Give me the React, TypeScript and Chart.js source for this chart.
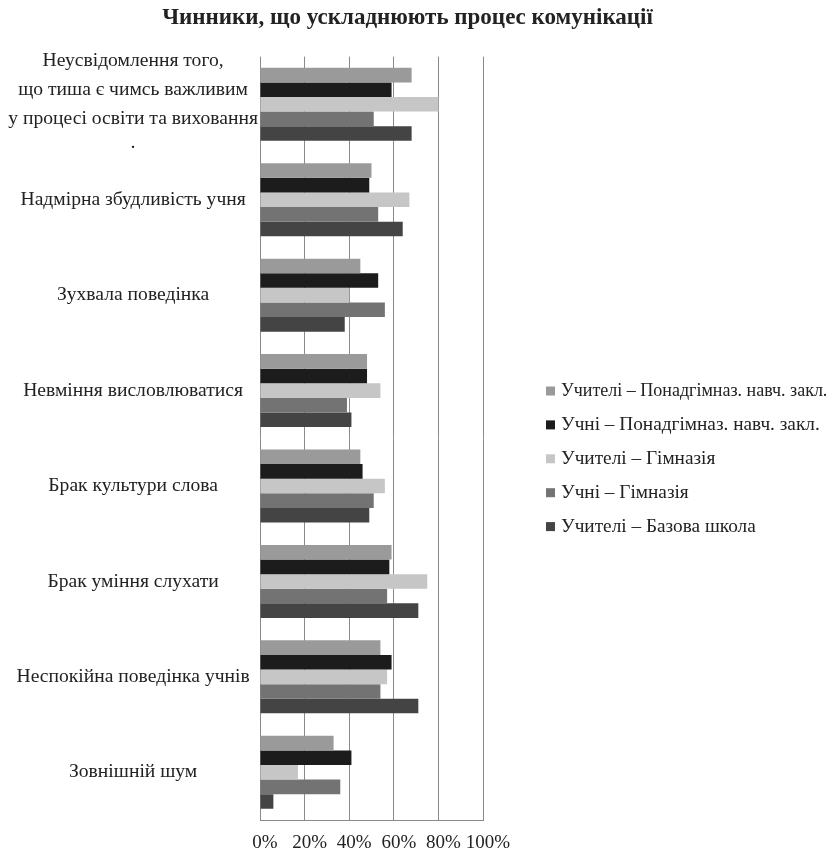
import React, { useEffect, useRef } from "react";
import { Chart, registerables } from "chart.js";

Chart.register(...registerables);

const TITLE = "Чинники, що ускладнюють процес комунікації";

const categories: (string | string[])[] = [
  ["Неусвідомлення того,", "що тиша є чимсь важливим", "у процесі освіти та виховання", "·"],
  "Надмірна збудливість учня",
  "Зухвала поведінка",
  "Невміння висловлюватися",
  "Брак культури слова",
  "Брак уміння слухати",
  "Неспокійна поведінка учнів",
  "Зовнішній шум",
];

const seriesNames = [
  "Учителі – Понадгімназ. навч. закл.",
  "Учні – Понадгімназ. навч. закл.",
  "Учителі – Гімназія",
  "Учні – Гімназія",
  "Учителі – Базова школа",
];

const teachersUpper = [68, 50, 45, 48, 45, 59, 54, 33];
const pupilsUpper = [59, 49, 53, 48, 46, 58, 59, 41];
const teachersGymn = [80, 67, 40, 54, 56, 75, 57, 17];
const pupilsGymn = [51, 53, 56, 39, 51, 57, 54, 36];
const teachersBasic = [68, 64, 38, 41, 49, 71, 71, 6];

const seriesValues = [teachersUpper, pupilsUpper, teachersGymn, pupilsGymn, teachersBasic];
const seriesColors = ["#9a9a9a", "#1c1c1c", "#c6c6c6", "#737373", "#444444"];

const xTicks = [0, 20, 40, 60, 80, 100];

const FONT = "'Liberation Serif', 'Times New Roman', serif";

// side legend drawn on the canvas, to the right of the plot
const LEGEND_GAP = 63;
const LEGEND_FIRST_Y = 391;
const LEGEND_ROW = 33.9;
const LEGEND_BOX = 9;
const LEGEND_FONT_SIZES = [18, 19.3, 19.3, 19.3, 19.3];

const sideLegend = {
  id: "sideLegend",
  afterDraw(chart: any) {
    const { ctx, chartArea } = chart;
    const x = chartArea.right + LEGEND_GAP;
    ctx.save();
    ctx.textBaseline = "middle";
    ctx.textAlign = "left";
    chart.data.datasets.forEach((ds: any, i: number) => {
      const y = LEGEND_FIRST_Y + i * LEGEND_ROW;
      ctx.fillStyle = ds.backgroundColor;
      ctx.fillRect(x, y - LEGEND_BOX / 2, LEGEND_BOX, LEGEND_BOX);
      ctx.font = `${LEGEND_FONT_SIZES[i]}px ${FONT}`;
      ctx.fillStyle = "#222";
      ctx.fillText(ds.label, x + LEGEND_BOX + 6, y);
    });
    ctx.restore();
  },
};

export default function App() {
  const ref = useRef<HTMLCanvasElement | null>(null);

  useEffect(() => {
    if (!ref.current) return;
    const chart = new Chart(ref.current, {
      type: "bar",
      data: {
        labels: categories,
        datasets: seriesNames.map((name, i) => ({
          label: name,
          data: seriesValues[i],
          backgroundColor: seriesColors[i],
          borderWidth: 0,
          barPercentage: 1,
          categoryPercentage: 0.765,
        })),
      },
      options: {
        indexAxis: "y",
        animation: false,
        responsive: true,
        maintainAspectRatio: false,
        layout: { padding: { left: 0, right: 13, top: 0, bottom: 0 } },
        plugins: {
          title: {
            display: true,
            text: TITLE,
            color: "#222",
            font: { family: FONT, size: 23, weight: "bold" },
            padding: { top: 4, bottom: 25 },
          },
          legend: { display: false },
          tooltip: { enabled: false },
        },
        scales: {
          x: {
            min: 0,
            max: 100,
            afterBuildTicks: (scale: any) => {
              scale.ticks = xTicks.map((v) => ({ value: v }));
            },
            ticks: {
              color: "#222",
              font: { family: FONT, size: 19 },
              callback: (v: any) => v + "%",
              padding: 12,
              labelOffset: 5,
              maxRotation: 0,
              autoSkip: false,
            },
            grid: { color: "#8a8a8a", lineWidth: 1, drawTicks: false },
            border: { display: true, color: "#8a8a8a" },
            afterFit: (scale: any) => {
              scale.height = 33;
            },
          },
          y: {
            ticks: {
              color: "#222",
              font: { family: FONT, size: 19.6, lineHeight: 1.48 },
              crossAlign: "center",
              padding: 2,
              autoSkip: false,
            },
            grid: { display: false, drawTicks: false },
            border: { display: false },
            afterFit: (scale: any) => {
              scale.width = 260;
              scale.paddingTop = 0;
              scale.paddingBottom = 0;
            },
          },
          y2: {
            type: "category",
            position: "right",
            display: true,
            ticks: { display: false },
            grid: { display: false, drawTicks: false },
            border: { display: false },
            afterFit: (scale: any) => {
              scale.width = 332;
              scale.paddingTop = 0;
              scale.paddingBottom = 0;
            },
          },
        },
      } as any,
      plugins: [sideLegend],
    });
    return () => chart.destroy();
  }, []);

  return (
    <div style={{ position: "absolute", left: 0, top: 0, width: 828, height: 853, background: "#fff" }}>
      <canvas ref={ref} />
    </div>
  );
}
